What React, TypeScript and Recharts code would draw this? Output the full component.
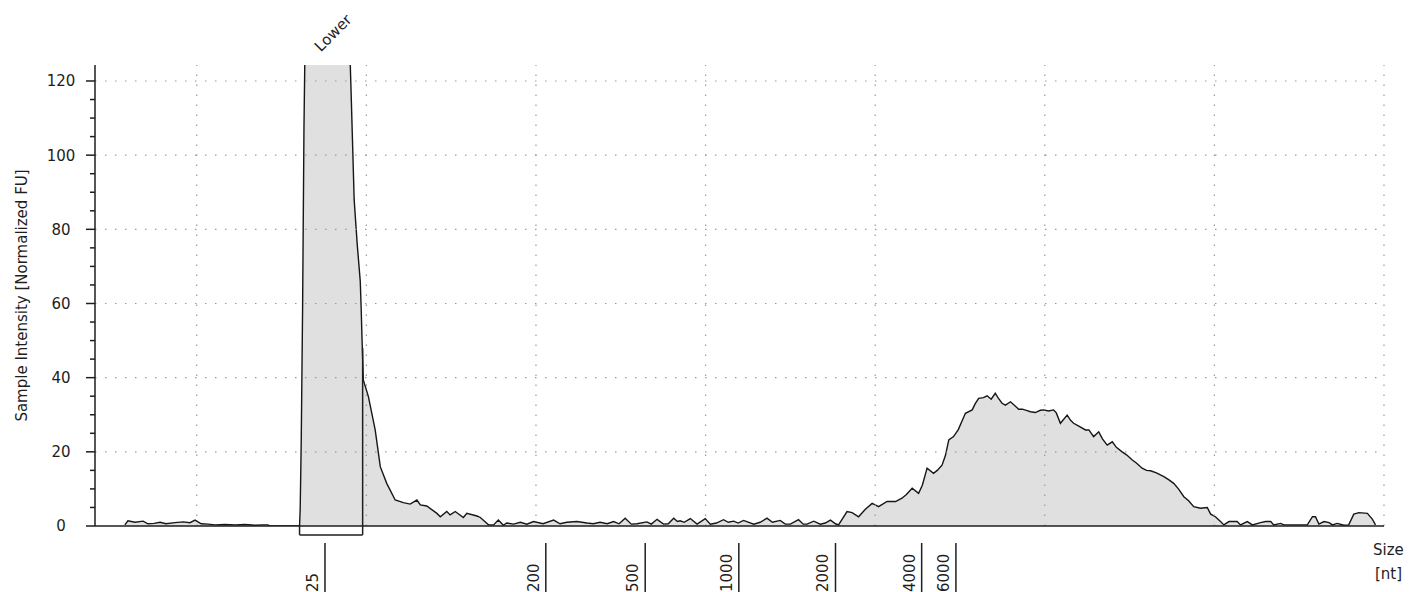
import { AreaChart, Area, XAxis, YAxis, ReferenceLine } from "recharts";

const FONT = "'DejaVu Sans', sans-serif";
const INK = "#1e1e1e";

// electropherogram trace: [migration time (s), intensity (normalized FU)]
const baselineLeft: [number, number][] = [
  [22.88, 0.3], [22.97, 1.4], [23.18, 1.0], [23.42, 1.3], [23.56, 0.6], [23.74, 0.7],
  [23.92, 1.0], [24.09, 0.6], [24.36, 0.9], [24.6, 1.1], [24.8, 0.9], [24.95, 1.6],
  [25.13, 0.6], [25.33, 0.5], [25.54, 0.3], [25.83, 0.4], [26.13, 0.3], [26.42, 0.4],
  [26.72, 0.2], [26.93, 0.3], [27.1, 0.3], [27.16, 0], [28.03, 0],
];

const lowerPeak: [number, number][] = [
  [28.05, 4.9], [28.08, 23], [28.12, 58.8], [28.16, 107], [28.22, 150], [28.34, 210],
  [28.64, 260], [29.08, 240], [29.37, 180], [29.49, 135], [29.55, 117], [29.6, 101],
  [29.64, 88], [29.73, 76], [29.82, 66], [29.85, 57.7], [29.87, 51], [29.91, 39.4],
  [30.06, 34.9], [30.26, 25.9], [30.41, 16.0], [30.6, 11.5], [30.85, 7.0], [31.09, 6.3],
  [31.29, 5.9], [31.49, 7.0], [31.59, 5.7], [31.78, 5.4], [32.08, 3.4], [32.18, 2.5],
  [32.37, 3.9], [32.47, 3.0], [32.62, 3.9], [32.86, 2.3], [32.96, 3.4], [33.26, 2.7],
  [33.36, 2.3], [33.6, 0.3], [33.75, 0.3], [33.89, 1.6], [34.04, 0.2],
];

const midNoise: [number, number][] = [
  [34.14, 0.8], [34.34, 0.5], [34.54, 1.0], [34.73, 0.5], [34.93, 1.2], [35.21, 0.6],
  [35.52, 1.6], [35.71, 0.6], [35.91, 1.0], [36.21, 1.2], [36.5, 0.8], [36.69, 0.6],
  [36.89, 1.0], [37.1, 0.6], [37.29, 1.2], [37.45, 0.6], [37.63, 2.1], [37.81, 0.5],
  [37.98, 0.6], [38.27, 1.1], [38.4, 0.5], [38.57, 1.8], [38.76, 0.5], [38.9, 0.6],
  [39.06, 2.1], [39.17, 1.2], [39.25, 1.4], [39.37, 1.0], [39.55, 2.0], [39.75, 0.5],
  [39.99, 2.0], [40.14, 0.5], [40.32, 0.8], [40.53, 1.7], [40.67, 1.0], [40.83, 1.3],
  [40.96, 0.8], [41.12, 1.5], [41.42, 0.5], [41.61, 1.0], [41.81, 2.1], [41.97, 1.0],
  [42.2, 1.5], [42.35, 0.5], [42.5, 0.5], [42.74, 1.7], [42.88, 0.5], [42.99, 0.5],
  [43.19, 1.3], [43.38, 0.5], [43.53, 0.8], [43.68, 1.6], [43.83, 0.6], [43.92, 0.3],
];

const mainBump: [number, number][] = [
  [44.17, 3.9], [44.32, 3.6], [44.51, 2.5], [44.71, 4.5], [44.91, 6.1], [45.1, 5.2],
  [45.35, 6.6], [45.6, 6.6], [45.79, 7.5], [45.92, 8.5], [46.09, 10.2], [46.28, 8.8],
  [46.39, 11.0], [46.53, 15.6], [46.72, 14.2], [46.83, 15.0], [46.97, 16.4], [47.07, 19.0],
  [47.17, 23.2], [47.31, 24.1], [47.45, 26.0], [47.57, 28.5], [47.66, 30.4], [47.86, 31.3],
  [47.95, 33.0], [48.05, 34.4], [48.19, 34.6], [48.3, 35.1], [48.42, 34.2], [48.54, 35.8],
  [48.63, 34.5], [48.74, 33.1], [48.84, 32.6], [48.99, 33.5], [49.11, 32.5], [49.23, 31.5],
  [49.34, 31.5], [49.48, 31.1], [49.58, 30.8], [49.72, 30.6], [49.87, 31.2], [49.97, 31.3],
  [50.11, 31.0], [50.26, 31.3], [50.34, 30.5], [50.46, 27.7], [50.66, 29.9], [50.76, 28.5],
  [50.85, 27.7], [50.99, 27.0], [51.2, 25.9], [51.3, 25.9], [51.44, 24.1], [51.59, 25.4],
  [51.7, 23.5], [51.84, 21.8], [51.99, 22.7], [52.11, 21.2], [52.28, 20.0], [52.41, 19.2],
  [52.58, 17.8], [52.7, 17.0], [52.87, 15.6], [53.0, 15.0], [53.12, 14.9], [53.29, 14.3],
  [53.51, 13.3], [53.65, 12.5], [53.8, 11.5], [53.94, 10.0], [54.1, 7.9], [54.24, 6.8],
  [54.39, 5.2], [54.59, 4.8], [54.79, 5.0], [54.89, 3.2], [55.03, 2.5], [55.18, 1.2],
  [55.28, 0.3],
];

const tailRight: [number, number][] = [
  [55.43, 1.2], [55.67, 1.2], [55.77, 0.3], [55.97, 1.2], [56.12, 0.3], [56.36, 0.9],
  [56.51, 1.2], [56.66, 1.2], [56.75, 0.3], [56.95, 0.7], [57.05, 0.3], [57.54, 0.3],
  [57.74, 0.3], [57.89, 2.5], [57.98, 2.5], [58.08, 0.5], [58.23, 1.2], [58.38, 0.9],
  [58.48, 0.3], [58.62, 0.7], [58.82, 0.2], [58.96, 0.3], [59.11, 3.2], [59.26, 3.6],
  [59.51, 3.4], [59.66, 1.8], [59.75, 0.3],
];

const trace = [...baselineLeft, ...lowerPeak, ...midNoise, ...mainBump, ...tailRight].map(
  ([time, fu]) => ({ time, fu })
);

// ladder sizes [nt] and where they sit on the time axis
const ladderSizes = ["25", "200", "500", "1000", "2000", "4000", "6000"];
const ladderTimes = [28.78, 35.29, 38.22, 40.98, 43.83, 46.37, 47.38];

const yTicks = [0, 5, 10, 15, 20, 25, 30, 35, 40, 45, 50, 55, 60, 65, 70, 75, 80, 85, 90, 95, 100, 105, 110, 115, 120];
const yGrid = [20, 40, 60, 80, 100, 120];
const xGrid = [25, 30, 35, 40, 45, 50, 55, 60];

// lower marker integration window
const markerFrom = 28.03;
const markerTo = 29.89;
const markerTop = 48;
const markerBracket = -2.4;

const YTick = ({ x, y, payload }: any) => {
  const major = payload.value % 20 === 0;
  return (
    <g>
      <line x1={x - (major ? 9 : 5)} x2={x} y1={y} y2={y} stroke={INK} strokeWidth={1.5} />
      {major && (
        <text x={x - 34} y={y} dy="0.36em" textAnchor="middle" fontSize={15} fontFamily={FONT} fill={INK}>
          {payload.value}
        </text>
      )}
    </g>
  );
};

const SizeTick = ({ x, y, payload }: any) => {
  const label = ladderSizes[ladderTimes.indexOf(payload.value)];
  return (
    <g>
      <line x1={x} x2={x} y1={y + 17} y2={y + 72} stroke={INK} strokeWidth={1.5} />
      <text
        transform={`translate(${x - 7},${y + 66}) rotate(-90)`}
        textAnchor="start"
        fontSize={15}
        fontFamily={FONT}
        fill={INK}
      >
        {label}
      </text>
    </g>
  );
};

const sizeUnit = ({ viewBox }: any) => (
  <g fontSize={15} fontFamily={FONT} fill={INK}>
    <text x={viewBox.x + viewBox.width - 11} y={viewBox.y + 29}>Size</text>
    <text x={viewBox.x + viewBox.width - 9} y={viewBox.y + 53}>[nt]</text>
  </g>
);

const yTitle = ({ viewBox }: any) => {
  const cx = viewBox.x + 22;
  const cy = viewBox.y + viewBox.height / 2;
  return (
    <text
      transform={`translate(${cx},${cy}) rotate(-90)`}
      textAnchor="middle"
      dominantBaseline="central"
      fontSize={15}
      fontFamily={FONT}
      fill={INK}
    >
      Sample Intensity [Normalized FU]
    </text>
  );
};

const lowerLabel = ({ viewBox }: any) => (
  <text
    transform={`translate(${viewBox.x + 2},${viewBox.y - 32}) rotate(-45)`}
    textAnchor="middle"
    dominantBaseline="central"
    fontSize={15}
    fontFamily={FONT}
    fill={INK}
  >
    Lower
  </text>
);

export default function App() {
  return (
    <div style={{ position: "absolute", left: 0, top: 0, background: "#fff" }}>
      <AreaChart
        width={1410}
        height={592}
        data={trace}
        margin={{ top: 65, right: 26, left: 0, bottom: 0 }}
      >
        <XAxis
          dataKey="time"
          type="number"
          domain={[22, 60]}
          allowDataOverflow
          ticks={ladderTimes}
          interval={0}
          tick={<SizeTick />}
          tickLine={false}
          tickSize={0}
          tickMargin={0}
          height={66}
          axisLine={{ stroke: INK, strokeWidth: 1.5 }}
          label={sizeUnit}
        />
        <YAxis
          type="number"
          domain={[0, 124.31]}
          allowDataOverflow
          ticks={yTicks}
          interval={0}
          tick={<YTick />}
          tickLine={false}
          tickSize={0}
          tickMargin={0}
          width={95}
          axisLine={{ stroke: INK, strokeWidth: 1.5 }}
          label={yTitle}
        />
        <Area
          type="linear"
          dataKey="fu"
          stroke="#161616"
          strokeWidth={1.4}
          fill="#e0e0e0"
          fillOpacity={1}
          baseValue={0}
          dot={false}
          activeDot={false}
          isAnimationActive={false}
        />
        {yGrid.map((v) => (
          <ReferenceLine key={`h${v}`} y={v} stroke="#9a9a9a" strokeWidth={1.2} strokeDasharray="1.5 8.5" />
        ))}
        {xGrid.map((v) => (
          <ReferenceLine key={`v${v}`} x={v} stroke="#9a9a9a" strokeWidth={1.2} strokeDasharray="1.5 8.5" ifOverflow="visible" />
        ))}
        <ReferenceLine
          segment={[{ x: markerFrom, y: markerBracket }, { x: markerFrom, y: 0 }]}
          stroke={INK}
          strokeWidth={1.5}
          ifOverflow="visible"
        />
        <ReferenceLine
          segment={[{ x: markerTo, y: markerBracket }, { x: markerTo, y: markerTop }]}
          stroke={INK}
          strokeWidth={1.5}
          ifOverflow="visible"
        />
        <ReferenceLine
          segment={[{ x: markerFrom, y: markerBracket }, { x: markerTo, y: markerBracket }]}
          stroke={INK}
          strokeWidth={1.5}
          ifOverflow="visible"
        />
        <ReferenceLine
          x={(markerFrom + markerTo) / 2}
          stroke="none"
          label={lowerLabel}
        />
      </AreaChart>
    </div>
  );
}
